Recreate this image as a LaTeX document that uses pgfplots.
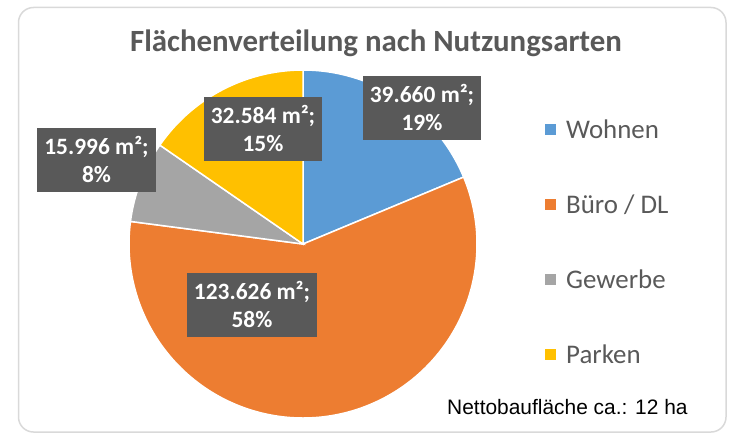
\documentclass[border=0pt]{standalone}
\usepackage{pgfplots}
\usepackage{pgfplotstable}
\pgfplotsset{compat=1.18}
\usepackage{fontspec}
\setmainfont{Carlito}
\newfontfamily\arialfont{Liberation Sans}

\definecolor{cWohnen}{HTML}{5B9BD5}
\definecolor{cBuero}{HTML}{ED7D31}
\definecolor{cGewerbe}{HTML}{A5A5A5}
\definecolor{cParken}{HTML}{FFC000}
\definecolor{textgray}{HTML}{595959}
\definecolor{boxgray}{HTML}{595959}
\definecolor{framegray}{HTML}{D9D9D9}

\pgfplotstableread{
name value
Wohnen 39660
Buero 123626
Gewerbe 15996
Parken 32584
}\piedata

\pgfplotstablegetelem{0}{value}\of\piedata \let\vA\pgfplotsretval
\pgfplotstablegetelem{1}{value}\of\piedata \let\vB\pgfplotsretval
\pgfplotstablegetelem{2}{value}\of\piedata \let\vC\pgfplotsretval
\pgfplotstablegetelem{3}{value}\of\piedata \let\vD\pgfplotsretval
\edef\total{\fpeval{\vA+\vB+\vC+\vD}}
\edef\aA{90}
\edef\aB{\fpeval{90-360*\vA/\total}}
\edef\aC{\fpeval{\aB-360*\vB/\total}}
\edef\aD{\fpeval{\aC-360*\vC/\total}}
\edef\aE{\fpeval{\aD-360*\vD/\total}}

\def\cx{303}
\def\cy{244}
\def\rr{174}

\begin{document}
\begin{tikzpicture}
\begin{axis}[
  width=730bp, height=434bp, scale only axis,
  xmin=0, xmax=730, ymin=0, ymax=434, y dir=reverse,
  hide axis, clip=false,
  legend image code/.code={\fill[#1, draw=none] (0bp,-5.5bp) rectangle (11bp,5.5bp);},
  legend style={at={(axis cs:545,121)}, anchor=north west, draw=none, fill=none,
    inner sep=0pt, row sep=57.6bp, column sep=10bp,
    font=\fontsize{27}{32}\selectfont, text=textgray,
    nodes={inner sep=0pt, text height=17.4bp, text depth=0pt}},
  legend cell align=left,
]
\path (axis cs:0,0) rectangle (axis cs:730,434);
\draw[framegray, line width=1.5bp, rounded corners=15bp] (axis cs:18.5,7.5) rectangle (axis cs:726,432);

\addplot[fill=cWohnen, draw=white, line width=1.5bp, domain=\aB:\aA, samples=60, variable=\t]
  ({\cx+\rr*cos(\t)}, {\cy-\rr*sin(\t)}) -- (axis cs:\cx,\cy) -- cycle;
\addlegendentry{Wohnen}
\addplot[fill=cBuero, draw=white, line width=1.5bp, domain=\aC:\aB, samples=180, variable=\t]
  ({\cx+\rr*cos(\t)}, {\cy-\rr*sin(\t)}) -- (axis cs:\cx,\cy) -- cycle;
\addlegendentry{Büro / DL}
\addplot[fill=cGewerbe, draw=white, line width=1.5bp, domain=\aD:\aC, samples=30, variable=\t]
  ({\cx+\rr*cos(\t)}, {\cy-\rr*sin(\t)}) -- (axis cs:\cx,\cy) -- cycle;
\addlegendentry{Gewerbe}
\addplot[fill=cParken, draw=white, line width=1.5bp, domain=\aE:\aD, samples=50, variable=\t]
  ({\cx+\rr*cos(\t)}, {\cy-\rr*sin(\t)}) -- (axis cs:\cx,\cy) -- cycle;
\addlegendentry{Parken}

\tikzset{lbl/.style={fill=boxgray, text=white, align=center, inner xsep=7bp, inner ysep=0pt,
  font=\fontsize{23.5}{29}\selectfont\bfseries}}
\node[lbl] at (axis cs:422,108) {\rule{0pt}{26bp}39.660 m²;\\19\%\rule[-9bp]{0pt}{9bp}};
\node[lbl] at (axis cs:252,305) {\rule{0pt}{26bp}123.626 m²;\\58\%\rule[-9bp]{0pt}{9bp}};
\node[lbl] at (axis cs:96.5,160) {\rule{0pt}{26bp}15.996 m²;\\8\%\rule[-9bp]{0pt}{9bp}};
\node[lbl] at (axis cs:263,129) {\rule{0pt}{26bp}32.584 m²;\\15\%\rule[-9bp]{0pt}{9bp}};

\node[anchor=base, font=\fontsize{31}{36}\selectfont\bfseries, text=textgray, inner sep=0pt]
  at (axis cs:376,52) {Flächenverteilung nach Nutzungsarten};
\node[anchor=base west, font=\arialfont\fontsize{21}{25}\selectfont, inner sep=0pt]
  at (axis cs:447,414) {Nettobaufläche ca.: 12 ha};
\end{axis}
\end{tikzpicture}
\end{document}
